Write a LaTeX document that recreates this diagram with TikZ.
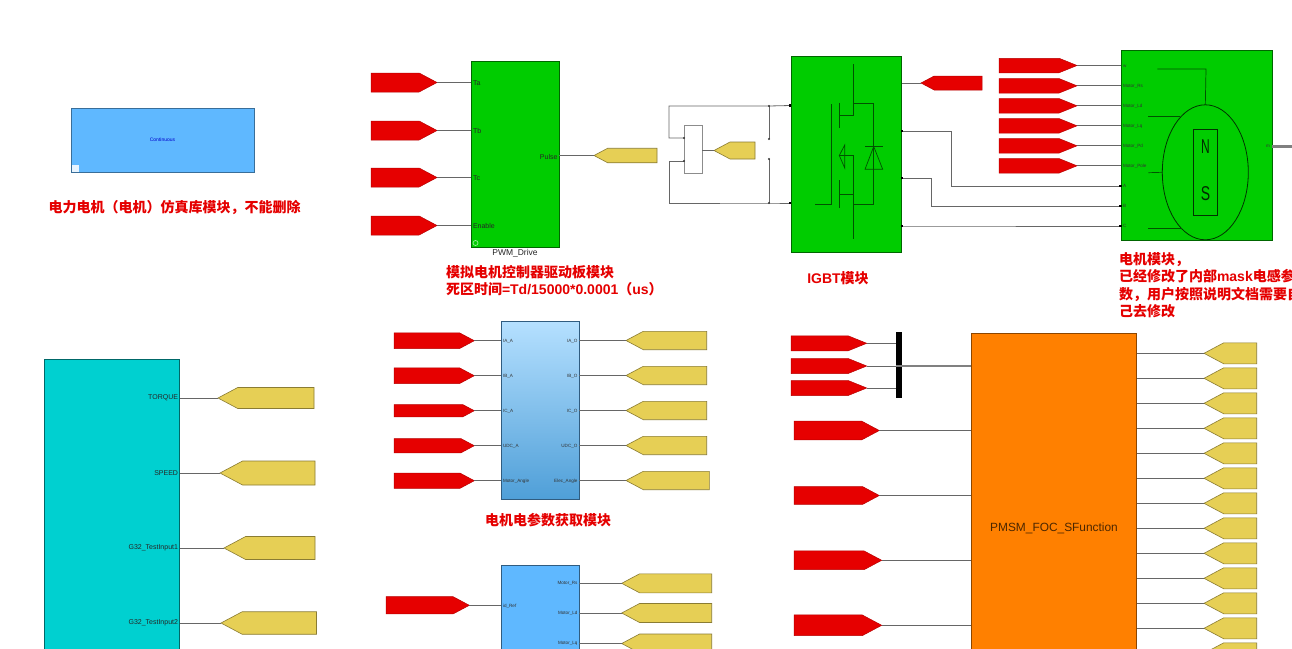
\documentclass[tikz,border=0pt]{standalone}
\usepackage{fontspec}
\setmainfont{Liberation Sans}
\newfontfamily\cjk{Noto Sans CJK SC}
\usetikzlibrary{shapes.symbols,shapes.geometric}
\definecolor{tagred}{HTML}{E60000}
\definecolor{tagyellow}{HTML}{E6CF55}
\definecolor{blockgreen}{HTML}{00CC00}
\definecolor{blockblue}{HTML}{5FB8FF}
\definecolor{blockcyan}{HTML}{00D0D0}
\definecolor{blockorange}{HTML}{FF8000}
\definecolor{sampletop}{HTML}{B5E0FF}
\definecolor{samplemid}{HTML}{8CC6EE}
\definecolor{samplebot}{HTML}{4F9FD8}
\newcommand\latinbold[1]{{\rmfamily\fontsize{14}{17}\selectfont #1}}
\begin{document}
\begin{tikzpicture}[
    x=1pt, y=-1pt,
    every node/.style={inner sep=0pt, outer sep=0pt},
    tagsize/.style 2 args={minimum width=#1, minimum height=#2},
    redtag/.style={signal, signal to=east, anchor=east, signal pointer angle=56, fill=tagred, draw=tagred!80!black, line width=0.5pt},
    redtagleft/.style={signal, signal to=west, anchor=west, signal pointer angle=56, fill=tagred, draw=tagred!80!black, line width=0.5pt},
    yellowtag/.style={signal, signal to=west, anchor=west, signal pointer angle=56, fill=tagyellow, draw=tagyellow!60!black, line width=0.6pt},
    block/.style={rectangle, anchor=north west, line width=0.7pt},
    wire/.style={draw=black!60, line width=0.8pt},
    bus/.style={draw=black!50, line width=2.2pt},
    icon/.style={draw=black!60!blockgreen, line width=0.7pt},
    caption/.style={text=red!90!black, font=\cjk\bfseries\fontsize{14}{17.3}\selectfont, align=left},
    portsmall/.style={font=\fontsize{4.6}{5}\selectfont, text=black!80},
    portbig/.style={font=\fontsize{7}{8}\selectfont, text=black!85},
    terminal/.style={rectangle, fill=black, minimum size=2.5pt},
]
\useasboundingbox (0,0) rectangle (1292,648);
\clip (0,0) rectangle (1292,648);
\fill[white] (0,0) rectangle (1292,648);

% Continuous
\node[block, fill=blockblue, draw=blockblue!60!black, tagsize={183}{64.5}] (powergui) at (71,108) {};
\node[font=\fontsize{5}{6}\selectfont, text=blue!80!black] (powerguiText) at (162.5,140) {Continuous};
\node[rectangle, fill=white!85!blockblue, tagsize={6.5}{6.5}] (powerguiIcon) at (75.5,168.5) {};
\node[caption] (powerguiCap) at (174.5,207) {电力电机（电机）仿真库模块，不能删除};

% PWM
\node[block, fill=blockgreen, draw=black!50!blockgreen, tagsize={88}{186}] (pwmDrive) at (471,61) {};
\node[circle, draw=white!60!blockgreen, line width=0.7pt, minimum size=5pt] (pwmIcon) at (475.5,243) {};
\node[font=\fontsize{8.5}{10}\selectfont, text=black!85] (pwmName) at (515,253.5) {PWM\_Drive};
\node[caption, anchor=north west] (pwmCap) at (446,265) {模拟电机控制器驱动板模块\\死区时间\latinbold{=Td/15000*0.0001}（\latinbold{us}）};
\foreach \name/\y/\lab in {Ta/83/Ta, Tb/131/Tb, Tc/178/Tc, En/226/Enable} {
    \node[redtag, tagsize={66}{19}] (tag\name) at (437,\y-0.5) {};
    \node[portbig, anchor=west] (port\name) at (473,\y) {\lab};
    \draw[wire] (tag\name.east) -- (tag\name.east -| pwmDrive.west);
}
\node[portbig, anchor=east] (portPulse) at (557.5,156.5) {Pulse};
\node[yellowtag, tagsize={63}{14.5}] (tagPulse) at (594,155.5) {};
\draw[wire] (tagPulse.west) -- (tagPulse.west -| pwmDrive.east);

% mux
\node[rectangle, fill=white, draw=black!45, line width=0.7pt, tagsize={18}{48}] (mux) at (693,149) {};
\node[yellowtag, tagsize={41}{17}] (tagMux) at (714,150.5) {};
\draw[wire] (tagMux.west) -- (tagMux.west -| mux.east);
\coordinate (muxInA) at (684,138);
\coordinate (muxInB) at (684,161);
\coordinate (igbtP) at (790.5,105.5);
\coordinate (igbtN) at (790.5,203);
\coordinate (jointP) at (769,106);
\coordinate (jointN) at (769,203);
\coordinate (jointC) at (769,139);
\coordinate (jointD) at (769,159);
\draw[wire] (muxInA) -- (669,138) -- (669,106) -- (jointP) -- (igbtP);
\draw[wire] (muxInB) -- (669,161) -- (669,203) -- (jointN) -- (igbtN);
\draw[wire] (jointP) -- (jointC);
\draw[wire] (jointD) -- (jointN);
\foreach \p in {muxInA, muxInB, jointP, jointN, jointC, jointD}
    \fill[black!80] (\p) circle (1.1);
\foreach \p in {igbtP, igbtN}
    \node[terminal] at (\p) {};

% IGBT
\node[block, fill=blockgreen, draw=black!50!blockgreen, tagsize={110}{196}] (igbt) at (791.5,56) {};
\node[redtagleft, tagsize={61}{14}] (tagGate) at (921,83) {};
\draw[wire] (tagGate.west) -- (tagGate.west -| igbt.east);
\draw[icon] (853.3,64) -- (853.3,115) -- (839.3,115);
\draw[icon] (839.3,102.7) -- (839.3,128);
\draw[icon] (831.7,104) -- (831.7,204) -- (815,204);
\draw[icon] (853.3,103.3) -- (873.3,103.3) -- (873.3,204) -- (853.3,204);
\draw[icon] (853.3,155) -- (853.3,239.3);
\draw[icon] (853.3,155.5) -- (839.3,155.5) -- (844.7,145) -- (844.7,168) -- (839.3,155.5);
\draw[icon] (853.3,194.3) -- (839.3,194.3);
\draw[icon] (839.3,180) -- (839.3,208);
\draw[icon] (865,169.3) -- (882.7,169.3) -- (873.7,146.5) -- cycle;
\draw[icon] (865,146.5) -- (882.7,146.5);
\node[caption] (igbtCap) at (838,278) {\latinbold{IGBT}模块};

% motor
\node[block, fill=blockgreen, draw=black!50!blockgreen, tagsize={151}{189.5}] (motor) at (1121,50.5) {};
\foreach \name/\y/\lab in {Wm/66/w, Rs/86.3/Motor\_Rs, Ld/106.3/Motor\_Ld, Lq/126.3/Motor\_Lq, Pd/146.3/Motor\_Pd, Pole/166.3/Motor\_Pole} {
    \node[redtag, signal pointer angle=44, tagsize={78}{14.5}] (tag\name) at (1077,\y-0.5) {};
    \node[portsmall, anchor=west] (port\name) at (1123,\y) {\lab};
    \draw[wire] (tag\name.east) -- (tag\name.east -| motor.west);
}
\foreach \name/\y/\lab/\xb in {A/131/186/951, B/178/206/931, C/226/226/915} {
    \node[terminal] (igbt\name) at (902,\y) {};
    \node[terminal] (motor\name) at (1120.5,\lab) {};
    \node[portsmall, anchor=west] (portm\name) at (1123,\lab) {\name};
    \draw[wire] (igbt\name) -- (\xb,\y) -- (\xb,\lab) -- (motor\name);
}
\node[portsmall, anchor=east] (portOut) at (1270,146) {m};
\coordinate (motorOut) at (1292,146.5);
\draw[bus] (motorOut -| motor.east) -- (motorOut);
\node[ellipse, draw=black!75!blockgreen, line width=0.8pt, tagsize={86}{135}] (rotor) at (1205.3,172.3) {};
\node[rectangle, draw=black!75!blockgreen, line width=0.8pt, tagsize={24}{86.4}] (magnet) at (1205.3,172.5) {};
\node[font=\fontsize{20}{20}\selectfont, text=black!80!blockgreen, xscale=0.6] (magnetN) at (1205.5,147) {N};
\node[font=\fontsize{20}{20}\selectfont, text=black!80!blockgreen, xscale=0.7] (magnetS) at (1205.5,194) {S};
\draw[icon] (1157.3,69) -- (1206,69) -- (rotor.north);
\draw[icon] (1148.3,116.3) -- (1180,116.3);
\draw[icon] (1148.3,172.7) -- (rotor.west);
\draw[icon] (1148.3,228.7) -- (1181.7,228.7);
\node[caption, anchor=north west] (motorCap) at (1119,252.5) {电机模块，\\已经修改了内部\latinbold{mask}电感参\\数，用户按照说明文档需要自\\己去修改};

% output block
\node[block, fill=blockcyan, draw=black!50!blockcyan, tagsize={135.5}{300}] (output) at (44,359) {};
\foreach \name/\y/\lab/\xl/\w/\h in {Torque/398/TORQUE/218/96/21, Speed/473/SPEED/220/95/24, InA/548/G32\_TestInput1/224/91/23, InB/623/G32\_TestInput2/221/95.5/22.5} {
    \node[yellowtag, tagsize={\w}{\h}] (tag\name) at (\xl,\y) {};
    \node[portbig, anchor=east] (port\name) at (178,\y) {\lab};
    \draw[wire] (tag\name.west) -- (tag\name.west -| output.east);
}

% sampling
\node[block, top color=sampletop, middle color=samplemid, bottom color=samplebot, draw=black!50!blockblue, tagsize={78}{178.3}] (sample) at (501.3,321) {};
\foreach \name/\y/\h/\lab/\labb/\w in {IA/341/15.6/IA\_A/IA\_O/80.7, IB/376/15.6/IB\_A/IB\_O/80.7, IC/411/12.4/IC\_A/IC\_O/80.7, UDC/446/14.3/UDC\_A/UDC\_O/80.7, Ang/481/15.3/Motor\_Angle/Elec\_Angle/83.3} {
    \node[redtag, tagsize={80.3}{\h}] (tag\name) at (474.3,\y-0.3) {};
    \node[yellowtag, tagsize={\w}{18.4}] (out\name) at (626,\y-0.5) {};
    \node[portsmall, anchor=west] (port\name) at (503,\y) {\lab};
    \node[portsmall, anchor=east] (port\name O) at (577.5,\y) {\labb};
    \draw[wire] (tag\name.east) -- (tag\name.east -| sample.west);
    \draw[wire] (out\name.west) -- (out\name.west -| sample.east);
}
\node[caption] (sampleCap) at (548,520.5) {电机电参数获取模块};

% parameters
\node[block, fill=blockblue, draw=black!50!blockblue, tagsize={78}{100}] (param) at (501.3,565) {};
\node[redtag, tagsize={83.3}{17.3}] (tagId) at (469.3,605.3) {};
\node[portsmall, anchor=west] (portId) at (503,606) {id\_Ref};
\draw[wire] (tagId.east) -- (tagId.east -| param.west);
\foreach \name/\y/\lab in {Rs/583.3/Motor\_Rs, Ld/613/Motor\_Ld, Lq/643.5/Motor\_Lq} {
    \node[yellowtag, tagsize={90}{19}] (par\name) at (621.7,\y) {};
    \node[portsmall, anchor=east] (plab\name) at (577.5,\y) {\lab};
    \draw[wire] (par\name.west) -- (par\name.west -| param.east);
}

% FOC
\node[block, fill=blockorange, draw=black!45!blockorange, tagsize={165.4}{330}] (foc) at (971.3,333.3) {};
\node[font=\fontsize{11.9}{14}\selectfont, text=black!70!blockorange] (focName) at (1054,528) {PMSM\_FOC\_SFunction};
\node[rectangle, fill=black, tagsize={5.4}{66}] (focBus) at (899,365.3) {};
\foreach \name/\y in {a/343.3, b/366, c/388} {
    \node[redtag, signal pointer angle=44, tagsize={75.7}{15}] (bus\name) at (866.7,\y) {};
    \draw[wire] (bus\name.east) -- (bus\name.east -| focBus.west);
}
\draw[bus] (busb.east -| focBus.west) -- (busb.east -| foc.west);
\foreach \name/\y/\h/\w in {a/430.5/18.7/85.3, b/495.5/17.6/85.3, c/560.3/18.7/87.7, d/625.3/20.7/87.7} {
    \node[redtag, anchor=west, tagsize={\w}{\h}] (focIn\name) at (794,\y) {};
    \draw[wire] (focIn\name.east) -- (focIn\name.east -| foc.west);
}
\foreach \i in {0,...,12} {
    \pgfmathsetmacro{\ypos}{353.3+25*\i}
    \node[yellowtag, tagsize={52.7}{21}] (focOut\i) at (1204,\ypos) {};
    \draw[wire] (focOut\i.west) -- (focOut\i.west -| foc.east);
}
\end{tikzpicture}
\end{document}
